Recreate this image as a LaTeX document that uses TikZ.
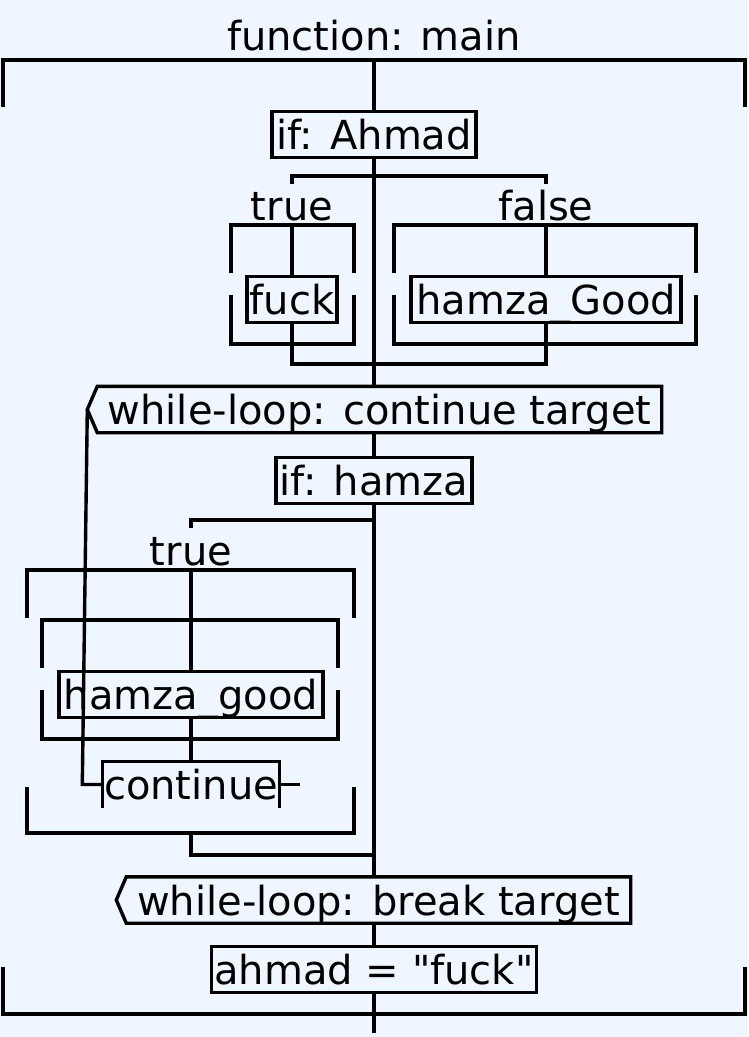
\documentclass[tikz,border=0pt]{standalone}
\usepackage{fontspec}
\setmainfont{DejaVu Sans}[Ligatures=TeXOff]
\usepackage{tikz}
\usetikzlibrary{calc}
\definecolor{bleufond}{RGB}{239, 246, 255}

\tikzset{
  trait/.style={line width=3.4pt},
  bloc/.style={draw, line width=3.4pt, fill=bleufond, inner sep=0pt,
    minimum height=46pt, text height=30pt, text depth=0pt},
  boucle/.style={inner sep=0pt, minimum height=46pt, text height=30pt, text depth=0pt},
  etiquette/.style={inner sep=0pt, text height=30pt, text depth=0pt}
}

\begin{document}
\begin{tikzpicture}[x=1pt, y=-1pt, font=\fontsize{40}{48}\selectfont]
    \fill[bleufond] (0,0) rectangle (748,1037);
    % la fonction et son cadre
    \node[etiquette] (titre) at (374,35) {function: main};
    \draw[trait] (3,107) -- (3,60) -- (745,60) -- (745,107);
    \draw[trait] (3,967) -- (3,1014) -- (745,1014) -- (745,967);
    \coordinate (haut) at (374,60);
    \coordinate (bas) at (374,1033);

    % premier si, avec ses deux branches
    \node[bloc, minimum width=204pt] (siAhmad) at (374,134.5) {if: Ahmad};
    \node[etiquette] (vraiA) at (292,205) {true};
    \node[etiquette] (fauxA) at (546,205) {false};
    \draw[trait] (292,184) -- (292,176) -- (546,176) -- (546,184);
    \foreach \g/\d/\m in {231/354/292, 394/696/546}{
      \draw[trait] (\g,273) -- (\g,225) -- (\d,225) -- (\d,273);
      \draw[trait] (\g,295) -- (\g,344) -- (\d,344) -- (\d,295);
      \coordinate (tige\m) at (\m,225);
    }
    \node[bloc, minimum width=90pt] (fuck) at (292,299.5) {fuck};
    \node[bloc, minimum width=270pt] (hamzaGood) at (546,299.5) {hamza\_Good};
    \draw[trait] (tige292) -- (fuck.north);
    \draw[trait] (tige546) -- (hamzaGood.north);
    \coordinate (joinA) at (374,364);
    \draw[trait] (fuck.south) -- (fuck.south |- joinA) -- (hamzaGood.south |- joinA) -- (hamzaGood.south);

    % tête de boucle
    \node[boucle, minimum width=564pt] (contCible) at (379.5,409.5) {while-loop: continue target};
    \coordinate (contPointe) at ($(contCible.west)+(-10,0)$);
    \draw[trait] (contCible.north east) -- (contCible.north west) -- (contPointe)
      -- (contCible.south west) -- (contCible.south east) -- cycle;

    % second si
    \node[bloc, minimum width=196pt] (siHamza) at (374,480.5) {if: hamza};
    \node[etiquette] (vraiB) at (191,550) {true};
    \coordinate (brancheB) at (374,520);
    \draw[trait] (brancheB) -- (191,520) -- (191,528);
    \draw[trait] (27,618) -- (27,570) -- (354,570) -- (354,618);
    \draw[trait] (27,787) -- (27,833) -- (354,833) -- (354,787);
    \draw[trait] (42,668) -- (42,620) -- (338,620) -- (338,668);
    \draw[trait] (42,690) -- (42,739) -- (338,739) -- (338,690);
    \coordinate (tigeB) at (191,570);
    \node[bloc, minimum width=264pt] (hamzaGoodB) at (191,694.5) {hamza\_good};
    \node[boucle, minimum width=177pt] (cont) at (191,784.5) {continue};
    \draw[trait] (cont.south west) -- (cont.north west) -- (cont.north east) -- (cont.south east);
    \draw[trait] (tigeB) -- (hamzaGoodB.north);
    \draw[trait] (hamzaGoodB.south) -- (cont.north);
    \draw[trait] (cont.east) -- ++(20,0);
    % retour vers la tête de boucle
    \draw[trait] (cont.west) -- ++(-20,0) -- (contPointe);
    \coordinate (joinB) at (374,855);
    \draw[trait] (191,833) -- (191,855) -- (joinB);

    % sortie de boucle
    \node[boucle, minimum width=504pt] (brkCible) at (378.5,900) {while-loop: break target};
    \coordinate (brkPointe) at ($(brkCible.west)+(-10,0)$);
    \draw[trait] (brkCible.north east) -- (brkCible.north west) -- (brkPointe)
      -- (brkCible.south west) -- (brkCible.south east) -- cycle;
    \node[bloc, minimum width=325pt] (affect) at (374,969.5) {ahmad = "fuck"};

    % le fil principal
    \draw[trait] (haut) -- (siAhmad.north);
    \draw[trait] (siAhmad.south) -- (siAhmad.south |- contCible.north);
    \draw[trait] (siAhmad.south |- contCible.south) -- (siHamza.north);
    \draw[trait] (siHamza.south) -- (siHamza.south |- brkCible.north);
    \draw[trait] (siHamza.south |- brkCible.south) -- (affect.north);
    \draw[trait] (affect.south) -- (bas);
  \end{tikzpicture}
\end{document}
